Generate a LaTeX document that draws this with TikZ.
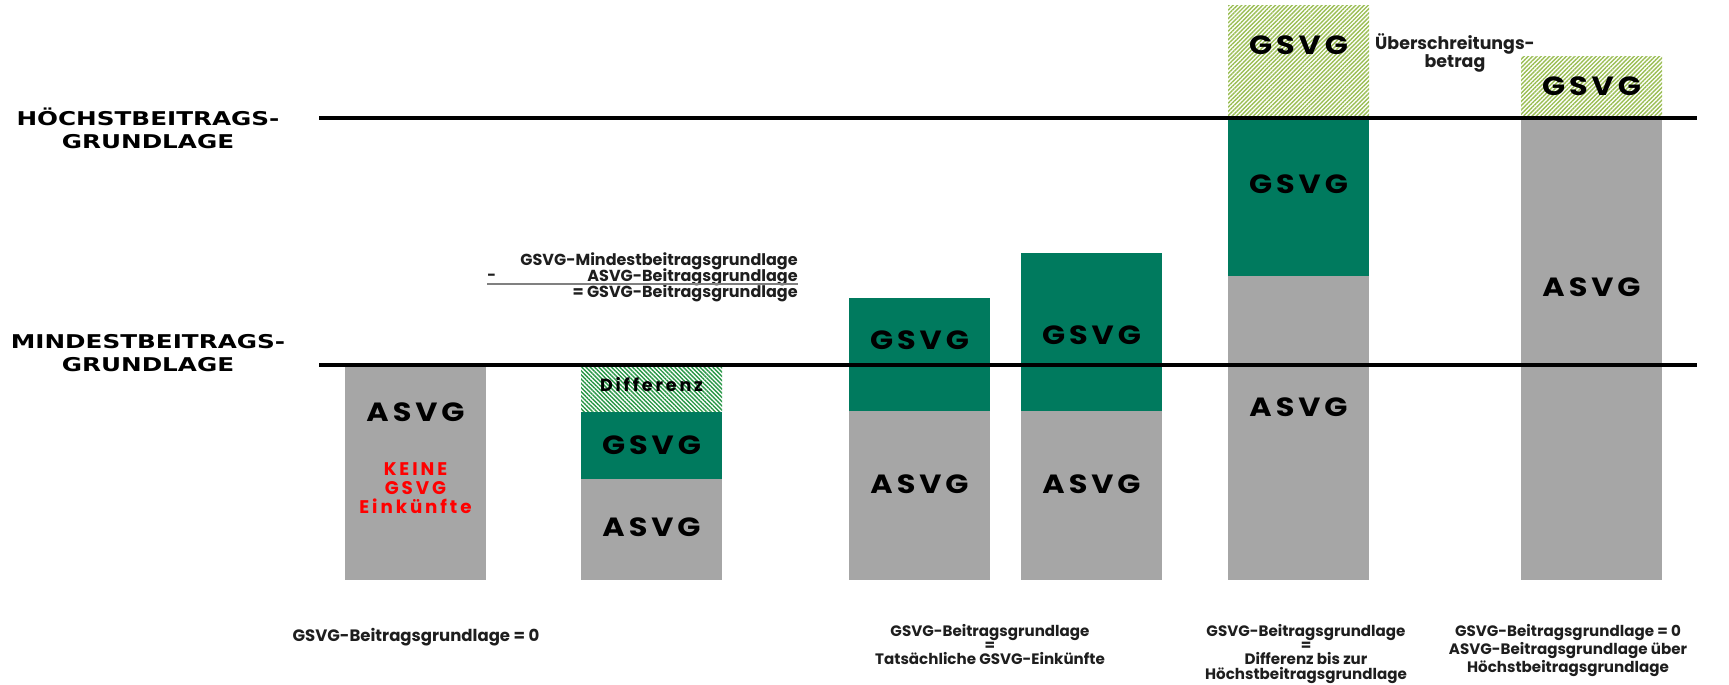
\documentclass[tikz,border=0pt]{standalone}
\usepackage{fontspec}
\setmainfont{Poppins}
\newfontfamily\sidefont{DejaVu Sans}[FakeStretch=1.3]
\newfontfamily\barfont{Poppins}[LetterSpace=15,FakeStretch=1.15]
\newfontfamily\spacedfont{Poppins}[LetterSpace=16]
\usetikzlibrary{patterns.meta}
\definecolor{gsvgGreen}{RGB}{0,122,94}
\definecolor{asvgGray}{RGB}{166,166,166}
\definecolor{hatchGreen}{RGB}{40,150,70}
\definecolor{hatchOlive}{RGB}{155,190,85}
\definecolor{noteText}{RGB}{30,30,30}

\begin{document}
\begin{tikzpicture}[x=0.02cm, y=-0.02cm,
    sidelabel/.style={align=center, font=\sidefont\bfseries\fontsize{10.8}{13}\selectfont},
    barlabel/.style={font=\barfont\bfseries\fontsize{15}{16}\selectfont},
    redlabel/.style={align=center, text=red, font=\spacedfont\bfseries\fontsize{10.4}{10.8}\selectfont},
    difflabel/.style={font=\spacedfont\bfseries\fontsize{10}{10}\selectfont},
    note/.style={align=center, inner sep=0pt, text=noteText, font=\bfseries\fontsize{8.6}{8.1}\selectfont},
    hatchA/.style={pattern={Lines[angle=-45,distance=1.7pt,line width=0.8pt]}, pattern color=hatchGreen},
    hatchB/.style={pattern={Lines[angle=45,distance=1.7pt,line width=0.8pt]}, pattern color=hatchOlive},
    level/.style={line width=2.3pt}]
    \def\base{580}
    \def\mind{365}
    \def\hoch{118}
    \useasboundingbox (0,0) rectangle (1729,685);

    % bars
    \fill[asvgGray] (345,\mind) rectangle (486,\base);

    \fill[hatchA] (581,\mind) rectangle (722,412);
    \fill[gsvgGreen] (581,412) rectangle (722,479);
    \fill[asvgGray] (581,479) rectangle (722,\base);

    \fill[gsvgGreen] (849,298) rectangle (990,411);
    \fill[asvgGray] (849,411) rectangle (990,\base);

    \fill[gsvgGreen] (1021,253) rectangle (1162,411);
    \fill[asvgGray] (1021,411) rectangle (1162,\base);

    \fill[hatchB] (1228,6) rectangle (1369,\hoch);
    \fill[gsvgGreen] (1228,\hoch) rectangle (1369,276);
    \fill[asvgGray] (1228,276) rectangle (1369,\base);

    \fill[hatchB] (1521,57) rectangle (1662,\hoch);
    \fill[asvgGray] (1521,\hoch) rectangle (1662,\base);

    % levels
    \draw[level] (319,\hoch) -- (1697,\hoch);
    \draw[level] (319,\mind) -- (1697,\mind);
    \node[sidelabel] (hoechst) at (148,128) {HÖCHSTBEITRAGS-\\GRUNDLAGE};
    \node[sidelabel] (mindest) at (148,353) {MINDESTBEITRAGS-\\GRUNDLAGE};

    % bar texts
    \node[barlabel] (asvgA) at (415.5,412) {ASVG};
    \node[redlabel] (keine) at (415.5,488) {KEINE\\GSVG\\Einkünfte};

    \node[difflabel] (diff) at (651.5,385) {Differenz};
    \node[barlabel] (gsvgB) at (651.5,445) {GSVG};
    \node[barlabel] (asvgB) at (651.5,527) {ASVG};

    \node[barlabel] (gsvgC) at (919.5,340) {GSVG};
    \node[barlabel] (asvgC) at (919.5,484) {ASVG};

    \node[barlabel] (gsvgD) at (1091.5,335) {GSVG};
    \node[barlabel] (asvgD) at (1091.5,484) {ASVG};

    \node[barlabel] (gsvgEtop) at (1298.5,45) {GSVG};
    \node[barlabel] (gsvgE) at (1298.5,184) {GSVG};
    \node[barlabel] (asvgE) at (1298.5,407) {ASVG};
    \node[note, font=\bfseries\fontsize{9.9}{10.4}\selectfont] (ueber) at (1455,53) {Überschreitungs-\\betrag};

    \node[barlabel] (gsvgFtop) at (1591.5,86) {GSVG};
    \node[barlabel] (asvgF) at (1591.5,287) {ASVG};

    % formula
    \node[note, anchor=east, font=\bfseries\fontsize{9.1}{9}\selectfont] (formA) at (798,261) {GSVG-Mindestbeitragsgrundlage};
    \node[note, anchor=east, font=\bfseries\fontsize{9.1}{9}\selectfont] (formB) at (798,277) {ASVG-Beitragsgrundlage};
    \node[note, anchor=east, font=\bfseries\fontsize{9.1}{9}\selectfont] (formC) at (798,293) {= GSVG-Beitragsgrundlage};
    \node[note, anchor=west] (minus) at (487,277) {-};
    \draw[gray, line width=0.6pt] (487,284) -- (798,284);

    % notes below
    \node[note, font=\bfseries\fontsize{9.4}{8.4}\selectfont] (noteA) at (416,637) {GSVG-Beitragsgrundlage = 0};
    \node[note, anchor=north] (noteC) at (990,624) {GSVG-Beitragsgrundlage\\=\\Tatsächliche GSVG-Einkünfte};
    \node[note, anchor=north] (noteE) at (1306,624) {GSVG-Beitragsgrundlage\\=\\Differenz bis zur\\Höchstbeitragsgrundlage};
    \node[note, anchor=north] (noteF) at (1568,624) {GSVG-Beitragsgrundlage = 0\\ASVG-Beitragsgrundlage über\\Höchstbeitragsgrundlage};
\end{tikzpicture}
\end{document}
